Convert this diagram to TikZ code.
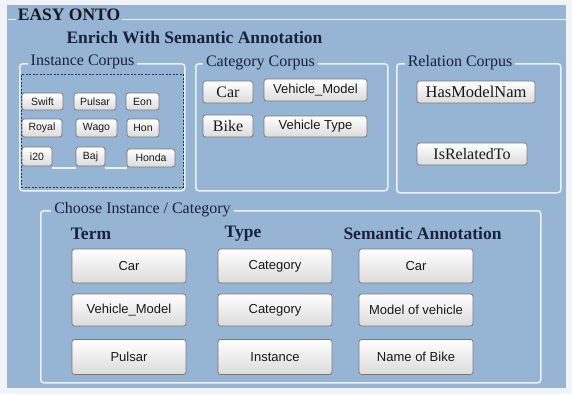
\documentclass[tikz,border=0pt]{standalone}
\usepackage{fontspec}
\setmainfont{Liberation Serif}
\newfontfamily\btnfont{Liberation Sans}
\definecolor{bgblue}{RGB}{150,180,212}
\definecolor{navy}{RGB}{24,34,62}
\definecolor{outerbg}{RGB}{240,244,248}
\definecolor{boxline}{RGB}{236,242,248}
\definecolor{dashblue}{RGB}{36,54,92}
\definecolor{btnborder}{RGB}{120,120,120}
\tikzset{
  btn/.style={draw=btnborder, line width=0.8pt, rounded corners=2.5pt, top color=white, bottom color=black!14,
    inner sep=0pt, font=\btnfont\fontsize{13}{13}\selectfont, text=black!90},
  sbtn/.style={btn, font=\btnfont\fontsize{10.5}{10.5}\selectfont},
  rbtn/.style={btn, font=\fontsize{16}{16}\selectfont},
  groupbox/.style={draw=boxline, line width=1.5pt, rounded corners=3pt, anchor=north west, inner sep=0pt},
  gtitle/.style={fill=bgblue, inner xsep=3pt, inner ysep=1pt, text=navy, font=\fontsize{16}{16}\selectfont},
  header/.style={text=navy, inner sep=0pt, font=\bfseries\fontsize{17.5}{17.5}\selectfont},
}
\begin{document}
\begin{tikzpicture}[x=1pt,y=-1pt]
\useasboundingbox (0,0) rectangle (572,394);
\fill[outerbg] (0,0) rectangle (572,394);
\fill[bgblue] (7,5) rectangle (566,388);
% main title line
\coordinate (tl) at (8,19.5);
\coordinate (tr) at (566,19.5);
\draw[boxline, line width=1.5pt] (tl) -- (tr);
\node[fill=bgblue, inner xsep=2pt, inner ysep=0pt, text=black!90, font=\bfseries\fontsize{17.5}{17.5}\selectfont] (easy) at (69,14.5) {EASY ONTO};
\node[header] (enrich) at (194.5,38) {Enrich With Semantic Annotation};

% group boxes
\node[groupbox, minimum width=165pt, minimum height=127pt] (instbox) at (19,63) {};
\node[draw=dashblue, dashed, dash pattern=on 2pt off 1.5pt, line width=0.9pt, anchor=north west, inner sep=0pt, minimum width=162pt, minimum height=113pt] (instdash) at (21,74) {};
\node[gtitle] (insttitle) at (82.5,62) {Instance Corpus};

\node[groupbox, minimum width=192pt, minimum height=127pt] (catbox) at (195,63) {};
\node[gtitle] (cattitle) at (260.5,62.5) {Category Corpus};

\node[groupbox, minimum width=164pt, minimum height=129pt] (relbox) at (396,63) {};
\node[gtitle] (reltitle) at (460,62.5) {Relation Corpus};

\node[groupbox, minimum width=500pt, minimum height=172pt] (choosebox) at (40,210) {};
\node[gtitle] (choosetitle) at (142.5,210) {Choose Instance / Category};

% instance buttons
\node[sbtn, minimum width=41pt, minimum height=17pt] (swift) at (42.5,101.5) {Swift};
\node[sbtn, minimum width=42pt, minimum height=17pt] (pulsar) at (95,101.5) {Pulsar};
\node[sbtn, minimum width=33pt, minimum height=17pt] (eon) at (142.5,101.5) {Eon};
\node[sbtn, minimum width=40pt, minimum height=18pt] (royal) at (42,128) {Royal};
\node[sbtn, minimum width=41pt, minimum height=18pt] (wago) at (96.5,128) {Wago};
\node[sbtn, minimum width=32pt, minimum height=18pt] (hon) at (143,128) {Hon};
\node[sbtn, minimum width=30pt, minimum height=19pt] (i20) at (37,156.5) {i20};
\node[sbtn, minimum width=29pt, minimum height=19pt] (baj) at (90.5,156.5) {Baj};
\node[sbtn, minimum width=48pt, minimum height=18pt] (honda) at (151,158) {Honda};
\draw[boxline, line width=1.2pt] ([yshift=-1.5pt]i20.south east) -- ([yshift=-1.5pt]baj.south west);
\draw[boxline, line width=1.2pt] ([yshift=-1.5pt]baj.south east) -- ([yshift=-1.5pt]baj.south east -| honda.west);

% category buttons
\node[rbtn, minimum width=50pt, minimum height=22pt] (car) at (228,92) {Car};
\node[btn, minimum width=103pt, minimum height=22pt] (vmodel) at (315.5,90) {Vehicle\_Model};
\node[rbtn, minimum width=50pt, minimum height=22pt] (bike) at (228,126) {Bike};
\node[btn, minimum width=103pt, minimum height=21pt] (vtype) at (315.5,126.5) {Vehicle Type};

% relation buttons
\node[rbtn, minimum width=118pt, minimum height=22pt, font=\fontsize{16.5}{16.5}\selectfont] (hasmodel) at (476,92) {HasModelNam};
\node[rbtn, minimum width=110pt, minimum height=22pt] (isrel) at (472,154) {IsRelatedTo};

% headers
\node[header] (term) at (91,234) {Term};
\node[header] (type) at (243,234) {Type};
\node[header] (sem) at (422.5,234) {Semantic Annotation};

% choose buttons
\node[btn, minimum width=114pt, minimum height=34pt] (t1) at (129,266) {Car};
\node[btn, minimum width=114pt, minimum height=32pt] (t2) at (129,310) {Vehicle\_Model};
\node[btn, minimum width=114pt, minimum height=35pt] (t3) at (129,357) {Pulsar};
\node[btn, minimum width=114pt, minimum height=34pt] (y1) at (275,266) {Category};
\node[btn, minimum width=114pt, minimum height=32pt] (y2) at (275,310) {Category};
\node[btn, minimum width=114pt, minimum height=35pt] (y3) at (275,357) {Instance};
\node[btn, minimum width=114pt, minimum height=34pt] (s1) at (416,266) {Car};
\node[btn, minimum width=114pt, minimum height=32pt] (s2) at (416,310) {Model of vehicle};
\node[btn, minimum width=114pt, minimum height=35pt] (s3) at (416,357) {Name of Bike};
\end{tikzpicture}
\end{document}
